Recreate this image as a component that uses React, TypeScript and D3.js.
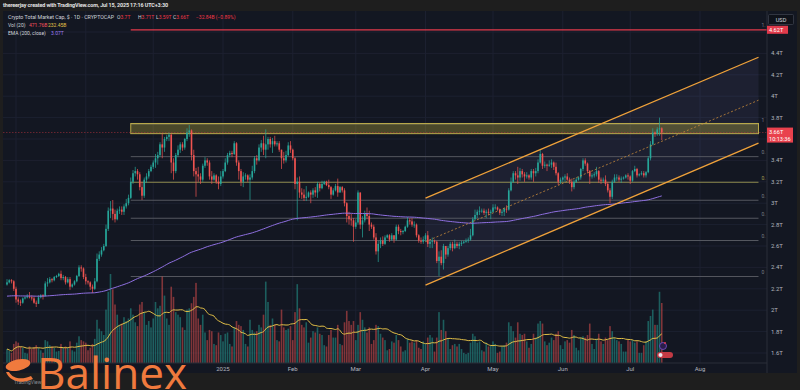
import * as d3 from 'd3'

// [close, high, low, volume in B] — open is the previous close
type Day = [number, number, number, number]

const firstOpen = 2.24
const startDay = '2024-09-27'

const sep24: Day[] = [[2.26, 2.29, 2.23, 110], [2.28, 2.29, 2.25, 95], [2.27, 2.29, 2.25, 80], [2.2, 2.28, 2.18, 150]]
const oct24: Day[] = [
  [2.1, 2.22, 2.07, 170], [2.08, 2.12, 2.05, 160], [2.07, 2.1, 2.04, 130], [2.11, 2.12, 2.06, 120], [2.12, 2.13, 2.1, 80],
  [2.13, 2.15, 2.11, 75], [2.12, 2.17, 2.11, 130], [2.11, 2.14, 2.09, 110], [2.07, 2.13, 2.06, 125], [2.06, 2.09, 2.03, 140],
  [2.12, 2.14, 2.06, 120], [2.14, 2.15, 2.11, 100], [2.13, 2.15, 2.1, 80], [2.25, 2.27, 2.13, 180], [2.26, 2.3, 2.22, 170],
  [2.29, 2.31, 2.25, 140], [2.28, 2.3, 2.26, 130], [2.31, 2.32, 2.27, 120], [2.32, 2.33, 2.3, 90], [2.34, 2.35, 2.31, 95],
  [2.3, 2.37, 2.28, 150], [2.31, 2.33, 2.28, 120], [2.26, 2.32, 2.24, 130], [2.29, 2.31, 2.25, 120], [2.22, 2.31, 2.19, 170],
  [2.24, 2.25, 2.21, 100], [2.27, 2.28, 2.23, 90], [2.32, 2.33, 2.26, 160], [2.4, 2.42, 2.31, 210], [2.39, 2.42, 2.36, 180],
  [2.31, 2.4, 2.29, 170],
]
const nov24: Day[] = [
  [2.27, 2.34, 2.24, 160], [2.26, 2.28, 2.24, 100], [2.22, 2.27, 2.19, 120], [2.2, 2.24, 2.16, 150], [2.27, 2.3, 2.19, 190],
  [2.48, 2.53, 2.26, 340], [2.52, 2.55, 2.46, 270], [2.56, 2.59, 2.5, 250], [2.6, 2.62, 2.55, 220], [2.76, 2.8, 2.59, 420],
  [2.93, 2.96, 2.74, 560], [2.95, 3.02, 2.86, 700], [2.9, 3.03, 2.84, 580], [2.85, 2.94, 2.82, 460], [2.93, 2.95, 2.84, 380],
  [2.94, 2.97, 2.9, 300], [2.92, 2.97, 2.89, 310], [2.97, 2.99, 2.89, 360], [3.0, 3.04, 2.95, 330], [3.05, 3.08, 2.98, 350],
  [3.2, 3.24, 3.04, 430], [3.28, 3.31, 3.18, 380], [3.3, 3.34, 3.25, 320], [3.27, 3.32, 3.22, 290], [3.15, 3.29, 3.12, 460],
  [3.07, 3.2, 3.03, 480], [3.22, 3.24, 3.05, 400], [3.25, 3.28, 3.19, 300], [3.3, 3.32, 3.23, 330], [3.34, 3.36, 3.29, 280],
]
const dec24: Day[] = [
  [3.38, 3.4, 3.32, 350], [3.42, 3.46, 3.33, 480], [3.45, 3.48, 3.36, 430], [3.55, 3.57, 3.43, 450], [3.52, 3.65, 3.42, 680],
  [3.6, 3.62, 3.48, 530], [3.62, 3.64, 3.58, 350], [3.64, 3.66, 3.58, 300], [3.38, 3.65, 3.28, 600], [3.3, 3.42, 3.22, 520],
  [3.45, 3.47, 3.28, 400], [3.5, 3.54, 3.43, 380], [3.55, 3.57, 3.47, 360], [3.52, 3.57, 3.49, 280], [3.6, 3.61, 3.5, 260],
  [3.66, 3.7, 3.58, 420], [3.68, 3.73, 3.62, 430], [3.45, 3.69, 3.4, 470], [3.3, 3.5, 3.25, 520], [3.27, 3.33, 3.06, 630],
  [3.25, 3.34, 3.2, 350], [3.22, 3.28, 3.18, 300], [3.35, 3.37, 3.2, 380], [3.4, 3.43, 3.33, 240], [3.38, 3.42, 3.35, 180],
  [3.25, 3.4, 3.22, 260], [3.22, 3.3, 3.18, 250], [3.26, 3.28, 3.21, 150], [3.2, 3.27, 3.18, 140], [3.18, 3.25, 3.13, 240],
  [3.25, 3.3, 3.16, 220],
]
const jan25: Day[] = [
  [3.3, 3.32, 3.23, 170], [3.38, 3.42, 3.29, 230], [3.45, 3.47, 3.36, 240], [3.47, 3.49, 3.43, 150], [3.46, 3.49, 3.43, 130],
  [3.56, 3.58, 3.45, 280], [3.38, 3.57, 3.35, 330], [3.3, 3.4, 3.22, 300], [3.2, 3.32, 3.16, 290], [3.25, 3.29, 3.15, 260],
  [3.26, 3.28, 3.22, 150], [3.22, 3.27, 3.2, 130], [3.24, 3.27, 3.03, 340], [3.3, 3.35, 3.22, 260], [3.42, 3.44, 3.28, 240],
  [3.4, 3.45, 3.36, 250], [3.52, 3.55, 3.39, 300], [3.56, 3.59, 3.48, 280], [3.5, 3.63, 3.45, 380], [3.55, 3.69, 3.42, 640],
  [3.6, 3.62, 3.5, 480], [3.55, 3.62, 3.52, 300], [3.58, 3.61, 3.47, 350], [3.55, 3.63, 3.53, 300], [3.56, 3.58, 3.53, 180],
  [3.5, 3.58, 3.48, 170], [3.42, 3.5, 3.32, 420], [3.4, 3.48, 3.37, 280], [3.45, 3.49, 3.38, 260], [3.54, 3.57, 3.44, 270],
  [3.5, 3.58, 3.47, 290],
]
const feb25: Day[] = [
  [3.42, 3.51, 3.4, 180], [3.18, 3.43, 3.13, 400], [3.2, 3.24, 2.84, 620], [3.1, 3.25, 3.05, 430], [3.08, 3.14, 3.04, 300],
  [3.05, 3.13, 3.02, 280], [3.06, 3.16, 3.02, 320], [3.1, 3.11, 3.05, 160], [3.08, 3.12, 3.0, 200], [3.12, 3.14, 3.05, 250],
  [3.1, 3.15, 3.06, 240], [3.18, 3.2, 3.05, 280], [3.14, 3.19, 3.11, 230], [3.18, 3.21, 3.13, 220], [3.2, 3.21, 3.17, 140],
  [3.17, 3.21, 3.16, 130], [3.15, 3.22, 3.13, 220], [3.08, 3.16, 3.04, 260], [3.12, 3.14, 3.07, 200], [3.16, 3.18, 3.11, 200],
  [3.1, 3.23, 3.06, 300], [3.15, 3.16, 3.1, 150], [3.12, 3.16, 3.1, 140], [3.0, 3.14, 2.97, 320], [2.88, 3.01, 2.82, 410],
  [2.85, 2.92, 2.8, 330], [2.84, 2.9, 2.79, 300], [2.78, 2.86, 2.64, 330],
]
const mar25: Day[] = [
  [2.82, 2.85, 2.76, 180], [3.1, 3.12, 2.8, 300], [2.8, 3.1, 2.76, 400], [2.84, 2.88, 2.68, 340], [2.9, 2.93, 2.82, 280],
  [2.88, 2.96, 2.85, 240], [2.8, 2.93, 2.74, 280], [2.78, 2.82, 2.76, 150], [2.68, 2.8, 2.66, 180], [2.55, 2.72, 2.52, 300],
  [2.62, 2.65, 2.45, 290], [2.65, 2.68, 2.58, 230], [2.62, 2.69, 2.6, 200], [2.68, 2.7, 2.61, 180], [2.7, 2.71, 2.67, 100],
  [2.66, 2.71, 2.64, 110], [2.7, 2.72, 2.65, 170], [2.66, 2.7, 2.63, 160], [2.78, 2.8, 2.65, 220], [2.74, 2.8, 2.71, 180],
  [2.73, 2.76, 2.7, 130], [2.74, 2.75, 2.71, 90], [2.78, 2.79, 2.73, 100], [2.84, 2.87, 2.77, 190], [2.83, 2.86, 2.8, 160],
  [2.8, 2.86, 2.78, 170], [2.8, 2.83, 2.77, 160], [2.7, 2.81, 2.68, 180], [2.65, 2.71, 2.63, 120], [2.64, 2.68, 2.62, 110],
  [2.66, 2.69, 2.62, 170],
]
const apr25: Day[] = [
  [2.7, 2.72, 2.64, 150], [2.62, 2.74, 2.59, 200], [2.64, 2.66, 2.58, 220], [2.65, 2.68, 2.58, 200], [2.64, 2.66, 2.62, 90],
  [2.46, 2.65, 2.44, 200], [2.5, 2.55, 2.32, 400], [2.44, 2.56, 2.42, 260], [2.6, 2.62, 2.38, 340], [2.52, 2.6, 2.48, 250],
  [2.58, 2.6, 2.5, 190], [2.62, 2.64, 2.56, 110], [2.58, 2.64, 2.55, 140], [2.62, 2.66, 2.57, 150], [2.6, 2.64, 2.58, 130],
  [2.62, 2.64, 2.57, 150], [2.63, 2.65, 2.6, 110], [2.64, 2.65, 2.62, 80], [2.65, 2.67, 2.63, 70], [2.66, 2.68, 2.63, 80],
  [2.7, 2.76, 2.65, 160], [2.85, 2.87, 2.69, 230], [2.89, 2.94, 2.84, 210], [2.92, 2.94, 2.86, 160], [2.93, 2.97, 2.89, 170],
  [2.93, 2.95, 2.91, 100], [2.91, 2.95, 2.89, 90], [2.92, 2.94, 2.86, 160], [2.91, 2.95, 2.89, 130], [2.92, 2.94, 2.85, 140],
]
const may25: Day[] = [
  [2.96, 2.99, 2.91, 170], [2.96, 2.99, 2.94, 150], [2.94, 2.97, 2.93, 80], [2.91, 2.95, 2.89, 90], [2.92, 2.94, 2.88, 130],
  [2.95, 2.96, 2.88, 140], [2.94, 2.98, 2.91, 160], [3.12, 3.14, 2.93, 320], [3.2, 3.24, 3.11, 290], [3.28, 3.3, 3.19, 250],
  [3.26, 3.3, 3.22, 200], [3.24, 3.34, 3.18, 320], [3.3, 3.33, 3.21, 230], [3.27, 3.32, 3.24, 220], [3.25, 3.29, 3.2, 230],
  [3.26, 3.29, 3.23, 170], [3.24, 3.27, 3.22, 120], [3.3, 3.32, 3.22, 150], [3.28, 3.32, 3.2, 230], [3.3, 3.33, 3.25, 200],
  [3.38, 3.41, 3.28, 310], [3.46, 3.5, 3.37, 330], [3.35, 3.47, 3.32, 310], [3.36, 3.39, 3.33, 170], [3.35, 3.37, 3.3, 140],
  [3.36, 3.4, 3.34, 160], [3.38, 3.41, 3.33, 200], [3.34, 3.39, 3.31, 180], [3.28, 3.38, 3.26, 230], [3.2, 3.29, 3.17, 250],
  [3.22, 3.24, 3.18, 140],
]
const jun25: Day[] = [
  [3.24, 3.25, 3.2, 110], [3.25, 3.27, 3.2, 170], [3.22, 3.28, 3.21, 180], [3.2, 3.24, 3.18, 160], [3.15, 3.23, 3.11, 260],
  [3.2, 3.22, 3.13, 220], [3.22, 3.24, 3.19, 120], [3.24, 3.25, 3.21, 100], [3.32, 3.33, 3.22, 200], [3.4, 3.42, 3.3, 210],
  [3.37, 3.42, 3.35, 200], [3.3, 3.38, 3.28, 220], [3.25, 3.31, 3.18, 310], [3.26, 3.28, 3.23, 150], [3.27, 3.29, 3.24, 110],
  [3.3, 3.34, 3.25, 190], [3.22, 3.31, 3.19, 230], [3.21, 3.24, 3.18, 170], [3.22, 3.24, 3.19, 150], [3.18, 3.26, 3.16, 200],
  [3.12, 3.2, 3.1, 180], [3.06, 3.14, 3.0, 290], [3.2, 3.22, 3.04, 250], [3.24, 3.27, 3.19, 200], [3.24, 3.27, 3.21, 180],
  [3.22, 3.26, 3.2, 170], [3.23, 3.25, 3.19, 150], [3.24, 3.25, 3.22, 90], [3.26, 3.27, 3.23, 90], [3.25, 3.28, 3.22, 180],
]
const jul25: Day[] = [
  [3.21, 3.26, 3.18, 170], [3.3, 3.31, 3.2, 180], [3.32, 3.35, 3.29, 160], [3.26, 3.33, 3.24, 170], [3.27, 3.28, 3.25, 80],
  [3.28, 3.3, 3.26, 80], [3.26, 3.3, 3.24, 140], [3.29, 3.3, 3.24, 170], [3.42, 3.44, 3.28, 330], [3.55, 3.58, 3.4, 370],
  [3.66, 3.7, 3.54, 420], [3.65, 3.67, 3.62, 300], [3.69, 3.71, 3.63, 300], [3.7, 3.8, 3.63, 560], [3.66, 3.71, 3.59, 471.76],
]

const emaSeed = 2.13
const emaLength = 200
const volMaLength = 20

const priceTicks = [1.6, 1.8, 2, 2.2, 2.4, 2.6, 2.8, 3, 3.2, 3.4, 3.6, 3.8, 4, 4.2, 4.4, 4.6]
const hiddenTicks = [3.6, 4.6]
const monthLines = ['2024-10-01', '2024-11-01', '2024-12-01']
const timeTicks: [string, string][] = [
  ['2025-01-01', '2025'], ['2025-02-01', 'Feb'], ['2025-03-01', 'Mar'], ['2025-04-01', 'Apr'],
  ['2025-05-01', 'May'], ['2025-06-01', 'Jun'], ['2025-07-01', 'Jul'], ['2025-08-01', 'Aug'],
]

// drawings
const channelDates = ['2025-04-01', '2025-08-27']
const channelUpper = [3.047, 4.364]
const channelLower = [2.234, 3.561]
const fibDates = ['2024-11-21', '2025-08-27']
const fibLow = 2.315
const fibHigh = 3.74
const fibRatios = [0, 0.236, 0.382, 0.5, 0.618, 0.786, 1]
const fibExtension = 1.618
const zoneLow = 3.65
const zoneHigh = 3.745

const GREEN = '#26a69a'
const RED = '#ef5350'
const BG = '#131722'

export default function App() {
  const days = [...sep24, ...oct24, ...nov24, ...dec24, ...jan25, ...feb25, ...mar25, ...apr25, ...may25, ...jun25, ...jul25]
  const start = new Date(startDay)
  const candles = days.map((d, i) => {
    const open = i === 0 ? firstOpen : days[i - 1][0]
    return {
      date: d3.utcDay.offset(start, i),
      open,
      close: d[0],
      high: Math.max(d[1], open, d[0]),
      low: Math.min(d[2], open, d[0]),
      vol: d[3],
    }
  })

  const x = d3.scaleUtc().domain([new Date('2024-09-27'), new Date('2025-08-27')]).range([7, 758.5])
  const y = d3.scaleLinear().domain([1.6, 4.6]).range([353, 32])
  const yv = d3.scaleLinear().domain([0, 2760]).range([363, 12])

  const alpha = 2 / (emaLength + 1)
  let e = emaSeed
  const ema = candles.map((c) => (e = e + alpha * (c.close - e)))
  const volMa = candles.map((_, i) => d3.mean(candles.slice(Math.max(0, i - volMaLength + 1), i + 1), (c) => c.vol)!)

  const lineX = (_: number, i: number) => x(candles[i].date)
  const emaPath = d3.line<number>().x(lineX).y((v) => y(v)).curve(d3.curveMonotoneX)(ema)!
  const volMaPath = d3.line<number>().x(lineX).y((v) => yv(v)).curve(d3.curveMonotoneX)(volMa)!

  const bw = 1.6
  const last = candles[candles.length - 1]
  const fibX0 = x(new Date(fibDates[0]))
  const fibX1 = x(new Date(fibDates[1]))
  const fibPrice = (r: number) => fibLow + r * (fibHigh - fibLow)
  const cx0 = x(new Date(channelDates[0]))
  const cx1 = x(new Date(channelDates[1]))
  const font = 'Roboto, "Liberation Sans", sans-serif'
  const tick = (v: number) => `${+v.toFixed(1)}T`
  const fmtT = (v: number) => `${v.toFixed(2)}T`
  // only the first glyphs of a fib label show before the price scale cuts it
  const fibTag = (r: number) => `${r}`.slice(0, 2)

  return (
    <svg width={800} height={390} style={{ position: 'absolute', left: 0, top: 0, display: 'block' }} fontFamily={font}>
      <defs>
        <clipPath id="plot">
          <rect x={3} y={11} width={764} height={352} />
        </clipPath>
      </defs>
      <rect width={800} height={390} fill="#1e1e1e" />
      <rect x={3} y={11} width={794} height={362} fill={BG} />
      <text x={3} y={7} fontSize={5.4} fontWeight={700} fill="#e3e3e3" textLength={165}>
        thereerjay created with TradingView.com, Jul 15, 2025 17:16 UTC+3:30
      </text>

      {/* grid */}
      {priceTicks.map((t) => (
        <line key={t} x1={3} x2={767} y1={y(t)} y2={y(t)} stroke="#1c2030" strokeWidth={1} />
      ))}
      {[...monthLines, ...timeTicks.map((t) => t[0])].map((d) => (
        <line key={d} x1={x(new Date(d))} x2={x(new Date(d))} y1={11} y2={363} stroke="#1c2030" strokeWidth={1} />
      ))}

      <g clipPath="url(#plot)">
        {/* channel fill */}
        <polygon
          points={[
            [cx0, y(channelUpper[0])],
            [cx1, y(channelUpper[1])],
            [cx1, y(channelLower[1])],
            [cx0, y(channelLower[0])],
          ].map((p) => p.join(',')).join(' ')}
          fill="rgba(130,130,210,0.09)"
        />

        {/* fib levels */}
        {fibRatios.map((r) => (
          <g key={r}>
            <line
              x1={fibX0}
              x2={fibX1}
              y1={y(fibPrice(r))}
              y2={y(fibPrice(r))}
              stroke={r === 0.618 ? '#8f8a4e' : '#54575f'}
              strokeWidth={1}
            />
            <text x={fibX1 + 3} y={y(fibPrice(r)) - 2.5} fontSize={5} fill={r === 0.618 ? '#a39c52' : '#787b86'}>
              {fibTag(r)}
            </text>
          </g>
        ))}
        <line
          x1={fibX0}
          x2={767}
          y1={y(fibPrice(fibExtension))}
          y2={y(fibPrice(fibExtension))}
          stroke="#e23a4b"
          strokeWidth={1.3}
        />
        <text x={fibX1 + 3} y={y(fibPrice(fibExtension)) - 3} fontSize={5} fill="#787b86">
          {fibTag(fibExtension)}
        </text>
        <rect
          x={fibX0}
          y={y(zoneHigh)}
          width={fibX1 - fibX0}
          height={y(zoneLow) - y(zoneHigh)}
          fill="rgba(220,200,60,0.28)"
          stroke="#b9a94a"
          strokeWidth={1}
        />

        {/* last price line */}
        <line x1={3} x2={767} y1={y(last.close)} y2={y(last.close)} stroke="#b8333d" strokeWidth={0.8} strokeDasharray="1.5,1.5" opacity={0.7} />

        {/* volume */}
        {candles.map((c, i) => (
          <rect
            key={i}
            x={x(c.date) - bw / 2}
            y={yv(c.vol)}
            width={bw}
            height={yv(0) - yv(c.vol)}
            fill={c.close >= c.open ? GREEN : RED}
            opacity={0.5}
          />
        ))}
        <path d={volMaPath} fill="none" stroke="#e3c047" strokeWidth={1} />

        {/* candles */}
        {candles.map((c, i) => {
          const col = c.close >= c.open ? GREEN : RED
          const top = y(Math.max(c.open, c.close))
          const bot = y(Math.min(c.open, c.close))
          return (
            <g key={i}>
              <line x1={x(c.date)} x2={x(c.date)} y1={y(c.high)} y2={y(c.low)} stroke={col} strokeWidth={0.7} />
              <rect x={x(c.date) - bw / 2} y={top} width={bw} height={Math.max(0.8, bot - top)} fill={col} />
            </g>
          )
        })}
        <path d={emaPath} fill="none" stroke="#8e6fe0" strokeWidth={1} />

        {/* parallel channel */}
        <line x1={cx0} x2={cx1} y1={y(channelUpper[0])} y2={y(channelUpper[1])} stroke="#f0a23a" strokeWidth={1.3} />
        <line x1={cx0} x2={cx1} y1={y(channelLower[0])} y2={y(channelLower[1])} stroke="#f0a23a" strokeWidth={1.3} />
        <line
          x1={cx0}
          x2={cx1}
          y1={y((channelUpper[0] + channelLower[0]) / 2)}
          y2={y((channelUpper[1] + channelLower[1]) / 2)}
          stroke="#c88a3a"
          strokeWidth={0.8}
          strokeDasharray="2,2"
        />
      </g>

      {/* axes frame */}
      <line x1={767} x2={767} y1={11} y2={373} stroke="#2a2e39" />
      <line x1={3} x2={767} y1={363} y2={363} stroke="#2a2e39" />
      {priceTicks
        .filter((t) => !hiddenTicks.includes(t))
        .map((t) => (
          <text key={t} x={771} y={y(t) + 2} fontSize={6} fill="#b2b5be">
            {tick(t)}
          </text>
        ))}
      {timeTicks.map(([d, l]) => (
        <text key={d} x={x(new Date(d))} y={370.5} fontSize={6} fill="#b2b5be" textAnchor="middle">
          {l}
        </text>
      ))}

      {/* axis labels */}
      <rect x={768.5} y={14.5} width={25} height={10} fill="#0f121a" stroke="#3a3e4a" strokeWidth={0.8} rx={1} />
      <text x={781} y={21.8} fontSize={5.6} fill="#d1d4dc" textAnchor="middle">USD</text>
      <rect x={767} y={y(fibPrice(fibExtension)) - 4} width={21} height={8} fill="#e23a4b" />
      <text x={769} y={y(fibPrice(fibExtension)) + 2} fontSize={5.6} fill="#fff">
        {fmtT(fibPrice(fibExtension))}
      </text>
      <rect x={767} y={y(last.close) - 5} width={26} height={15} fill="#e9414d" />
      <text x={769} y={y(last.close) + 1.5} fontSize={5.6} fill="#fff">
        {fmtT(last.close)}
      </text>
      <text x={769} y={y(last.close) + 8} fontSize={5.6} fill="#fff">
        10:13:36
      </text>

      {/* legend */}
      <g fontSize={5}>
        <text x={8} y={19} fill="#d1d4dc" textLength={106} lengthAdjust="spacingAndGlyphs">
          Crypto Total Market Cap, $ · 1D · CRYPTOCAP
        </text>
        <text x={117} y={19} fill="#d1d4dc">O<tspan fill="#f23645">3.7T</tspan></text>
        <text x={138} y={19} fill="#d1d4dc">H<tspan fill="#f23645">3.71T</tspan></text>
        <text x={156} y={19} fill="#d1d4dc">L<tspan fill="#f23645">3.59T</tspan></text>
        <text x={173} y={19} fill="#d1d4dc">C<tspan fill="#f23645">3.66T</tspan></text>
        <text x={196} y={19} fill="#f23645">−32.84B (−0.89%)</text>
        <text x={8} y={27} fill="#d1d4dc">Vol (20)</text>
        <text x={29} y={27} fill="#f7525f">471.76B</text>
        <text x={48} y={27} fill="#e3c047">232.45B</text>
        <text x={8} y={35} fill="#d1d4dc">EMA (200, close)</text>
        <text x={51} y={35} fill="#9d7cf0">3.07T</text>
      </g>

      {/* event markers */}
      <circle cx={663} cy={346} r={3.5} fill="#2b1d4a" stroke="#7a4fd0" strokeWidth={0.8} />
      <circle cx={665} cy={343} r={1} fill="#e23a4b" />
      <rect x={657} y={352} width={16} height={6} rx={3} fill="#c23a44" />
      <rect x={658.5} y={353} width={4} height={4} rx={2} fill="#e8eaf2" />

      {/* watermark */}
      <text x={14} y={384} fontSize={5} fill="#8a8d96">TradingView</text>
      <g fill="#f07a3d">
        <ellipse cx={18} cy={365} rx={12.5} ry={5.5} transform="rotate(-12 18 365)" />
        <path d="M6,372 C10,382 22,384 33,379 L31,376 C22,380 13,379 9,372 Z" />
        <text x={37} y={389} fontSize={43} fontFamily='"Open Sans", sans-serif' textLength={150} lengthAdjust="spacingAndGlyphs">
          Balinex
        </text>
      </g>
    </svg>
  )
}
